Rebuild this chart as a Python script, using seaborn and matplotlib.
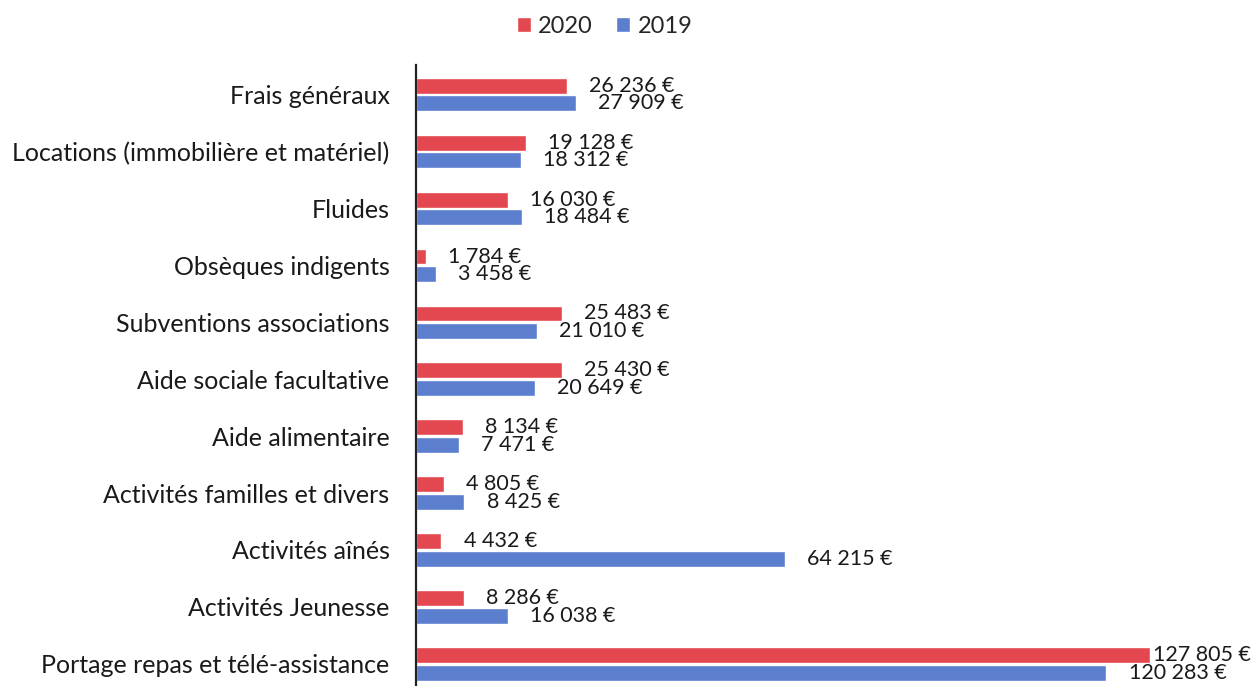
import matplotlib
matplotlib.use("Agg")
import matplotlib.pyplot as plt
import seaborn as sns
import pandas as pd

categories = [
    "Frais généraux",
    "Locations (immobilière et matériel)",
    "Fluides",
    "Obsèques indigents",
    "Subventions associations",
    "Aide sociale facultative",
    "Aide alimentaire",
    "Activités familles et divers",
    "Activités aînés",
    "Activités Jeunesse",
    "Portage repas et télé-assistance",
]
values_2020 = [26236, 19128, 16030, 1784, 25483, 25430, 8134, 4805, 4432, 8286, 127805]
values_2019 = [27909, 18312, 18484, 3458, 21010, 20649, 7471, 8425, 64215, 16038, 120283]
series = ["2020", "2019"]
colors = ["#E34850", "#5B7ECF"]

df = pd.DataFrame({
    "cat": categories * 2,
    "val": values_2020 + values_2019,
    "year": [series[0]] * len(categories) + [series[1]] * len(categories),
})

sns.set_theme(style="white")
plt.rcParams["font.family"] = ["Lato", "DejaVu Sans"]

fig = plt.figure(figsize=(12.54, 6.86), dpi=100)
ax = fig.add_axes([416 / 1254, 0.0, 1 - 416 / 1254, 1 - 65 / 686])

sns.barplot(data=df, y="cat", x="val", hue="year", hue_order=series,
            palette=colors, orient="h", width=0.62, gap=0.1,
            saturation=1, ax=ax, legend=True)

ax.set_xlim(0, 146000)
ax.set_ylim(10.39, -0.52)
ax.set_xlabel("")
ax.set_ylabel("")
ax.set_xticks([])
for s in ["top", "right", "bottom"]:
    ax.spines[s].set_visible(False)
ax.spines["left"].set_color("#222222")
ax.spines["left"].set_linewidth(1.6)
ax.tick_params(axis="y", length=0, pad=19, labelsize=18, labelcolor="#1a1a1a")


def fmt(v):
    return f"{v:,}".replace(",", " ") + " €"


texts = []
for cont, vals in zip(ax.containers, [values_2020, values_2019]):
    t = ax.bar_label(cont, labels=[fmt(v) for v in vals], padding=16,
                     fontsize=15.5, color="#1a1a1a")
    texts.extend(t)

fig.canvas.draw()
renderer = fig.canvas.get_renderer()
W = fig.bbox.width
for t in texts:
    bb = t.get_window_extent(renderer)
    if bb.x1 > W - 3:
        shift_px = bb.x1 - (W - 3)
        x, y = t.xyann
        t.xyann = (x - shift_px * 72 / fig.dpi, y)

leg = ax.get_legend()
handles = leg.legend_handles
leg.remove()
fig.legend(handles, series, loc="center", bbox_to_anchor=(0.482, 0.962),
           ncol=2, frameon=False, fontsize=17, handlelength=0.6,
           handleheight=0.6, handletextpad=0.3, columnspacing=1.0)

fig.savefig("out.png", dpi=100)
